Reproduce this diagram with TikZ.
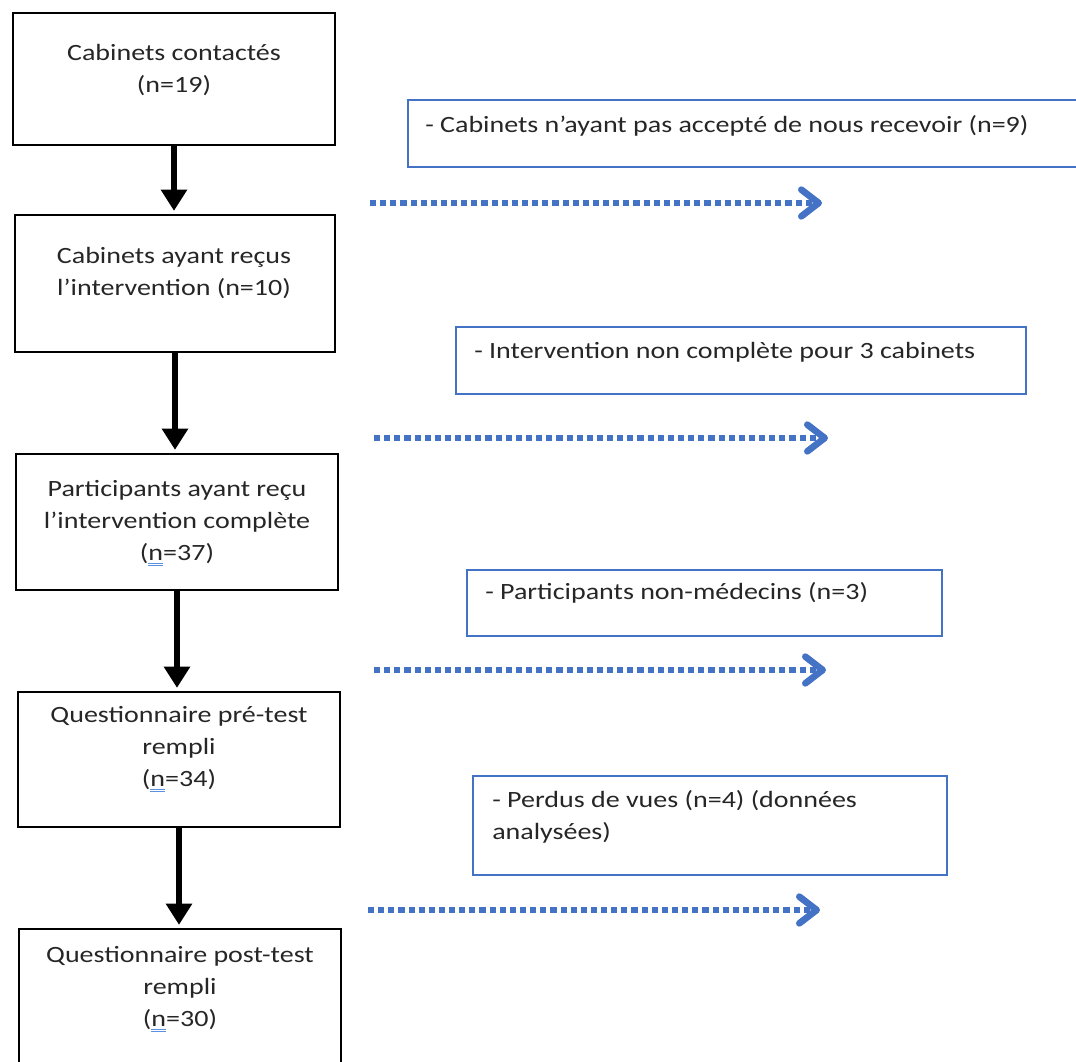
\documentclass[tikz,border=0pt]{standalone}
\usepackage{fontspec}
\setmainfont{Carlito}[FakeStretch=1.2]
\usetikzlibrary{arrows.meta}

\definecolor{wordblue}{HTML}{4472C4}
\definecolor{spellblue}{HTML}{5B8FE0}
\definecolor{textgray}{HTML}{262626}

% double blue underline under the n
\newsavebox\nbox
\newcommand{\nsouligne}{\sbox\nbox{n}\rlap{\color{spellblue}\rule[-2.4pt]{\wd\nbox}{0.7pt}}\rlap{\color{spellblue}\rule[-4.2pt]{\wd\nbox}{0.7pt}}n}

\tikzset{
  etape/.style 2 args={draw=black, line width=2.2pt, minimum width=#1*0.75pt, minimum height=#2*0.75pt, inner sep=0pt},
  exclu/.style 2 args={draw=wordblue, line width=1.1pt, minimum width=#1*0.75pt, minimum height=#2*0.75pt, inner sep=0pt},
  texte/.style={font=\fontsize{17.5pt}{24pt}\selectfont, text=textgray, inner sep=0pt},
  fleche/.style={line width=4.2pt, -{Triangle[width=19pt, length=16pt]}, shorten >=2pt},
  pointille/.style={wordblue, line width=4.2pt, dash pattern=on 4.6pt off 3pt,
    -{Straight Barb[length=13pt, width=20pt, line width=5pt, line cap=round, line join=round]}}
}

\begin{document}
\begin{tikzpicture}[x=0.75pt, y=-0.75pt]
    \useasboundingbox (0,0) rectangle (1076,1062);
    \clip (0,0) rectangle (1076,1062);

    % Draw the main boxes
    \node[etape={322}{132}] (b1) at (174,79) {};
    \node[etape={320}{137}] (b2) at (175,283.5) {};
    \node[etape={322}{136}] (b3) at (177,522) {};
    \node[etape={322}{135}] (b4) at (179,759.5) {};
    \node[etape={322}{150}] (b5) at (180,1004) {};

    % Text of the main boxes
    \node[texte, align=center] (t1) at (174,70) {Cabinets contactés\\(n=19)};
    \node[texte, align=center] (t2) at (174,273.5) {Cabinets ayant reçus\\l’intervention (n=10)};
    \node[texte, align=center] (t3) at (177,523.5) {Participants ayant reçu\\l’intervention complète\\(\nsouligne=37)};
    \node[texte, align=center] (t4) at (179,749) {Questionnaire pré-test\\rempli\\(\nsouligne=34)};
    \node[texte, align=center] (t5) at (180,989) {Questionnaire post-test\\rempli\\(\nsouligne=30)};

    % Arrows between the main boxes
    \draw[fleche] (b1.south) -- (b1.south |- b2.north);
    \draw[fleche] (b2.south) -- (b2.south |- b3.north);
    \draw[fleche] (b3.south) -- (b3.south |- b4.north);
    \draw[fleche] (b4.south) -- (b4.south |- b5.north);

    % Draw the exclusion boxes
    \node[exclu={682}{67}] (e1) at (749,133.5) {};
    \node[exclu={570}{67}] (e2) at (741,360.5) {};
    \node[exclu={475}{66}] (e3) at (704.5,603) {};
    \node[exclu={474}{99}] (e4) at (710,825.5) {};

    % Text of the exclusion boxes
    \node[texte, anchor=west] (x1) at (425,126) {- Cabinets n’ayant pas accepté de nous recevoir (n=9)};
    \node[texte, anchor=west] (x2) at (474,352) {- Intervention non complète pour 3 cabinets};
    \node[texte, anchor=west] (x3) at (485,593) {- Participants non-médecins (n=3)};
    \node[texte, anchor=west, align=left] (x4) at (492,816.5) {- Perdus de vues (n=4) (données\\analysées)};

    % Dotted arrows
    \coordinate (d1a) at (370,203);  \coordinate (d1b) at (822,203);
    \coordinate (d2a) at (374,438);  \coordinate (d2b) at (828,438);
    \coordinate (d3a) at (374,670);  \coordinate (d3b) at (826,670);
    \coordinate (d4a) at (368,910);  \coordinate (d4b) at (820,910);
    \draw[pointille] (d1a) -- (d1b);
    \draw[pointille] (d2a) -- (d2b);
    \draw[pointille] (d3a) -- (d3b);
    \draw[pointille] (d4a) -- (d4b);
\end{tikzpicture}
\end{document}
